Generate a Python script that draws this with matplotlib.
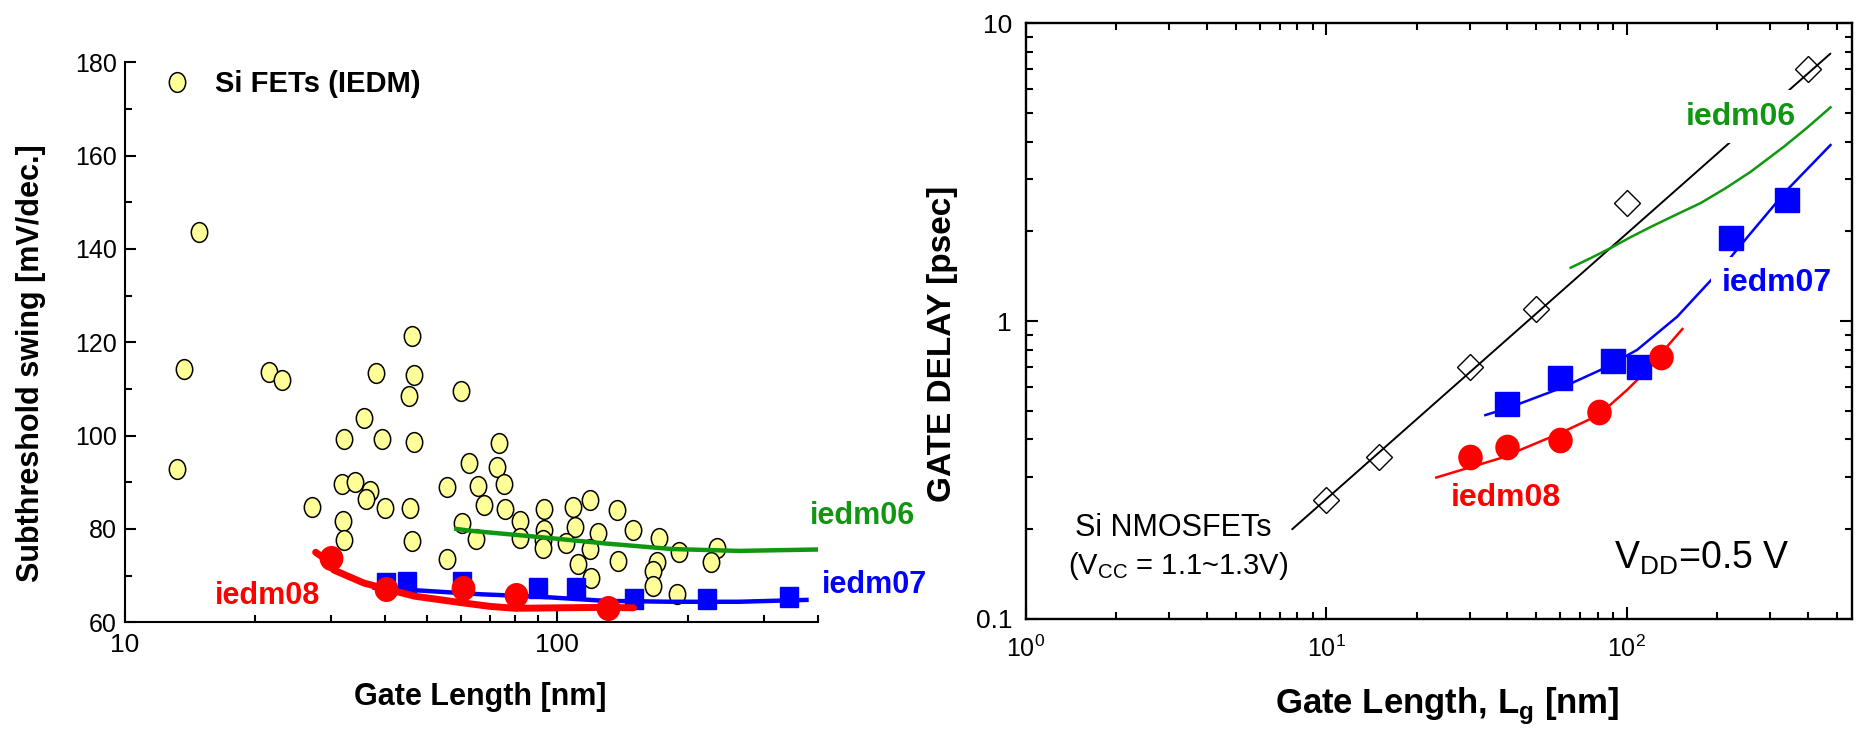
import numpy as np
import matplotlib
matplotlib.use('Agg')
import matplotlib.pyplot as plt
from matplotlib.markers import MarkerStyle
from matplotlib.transforms import Affine2D
from matplotlib.lines import Line2D
from matplotlib.ticker import LogLocator, MultipleLocator, FuncFormatter, NullFormatter

plt.rcParams['font.family'] = ['Liberation Sans', 'DejaVu Sans']
plt.rcParams['mathtext.fontset'] = 'custom'
plt.rcParams['mathtext.rm'] = 'Liberation Sans'

# ---- left panel data: subthreshold swing vs gate length ----
si_len = [14.8, 13.7, 13.2, 21.5, 23.1, 46.1, 38.0, 46.5, 45.4, 59.9,
          35.8, 32.1, 39.3, 46.5, 62.6, 27.0, 31.7, 34.0, 36.9, 36.1,
          39.9, 45.7, 55.5, 31.9, 32.1, 46.1, 60.1, 55.5, 65.5, 64.9,
          67.5, 73.2, 72.6, 75.1, 75.5, 82.1, 82.1, 92.9, 92.9, 92.6,
          92.6, 108.7, 118.8, 109.7, 104.5, 124.3, 118.8, 111.7, 119.3, 137.6,
          149.8, 137.8, 172.2, 190.6, 169.7, 166.7, 166.7, 188.8, 233.8, 226.9]
si_ss = [143.7, 114.3, 92.9, 113.7, 111.9, 121.4, 113.4, 112.9, 108.5, 109.6,
         103.8, 99.3, 99.3, 98.7, 94.1, 84.8, 89.6, 90.0, 88.2, 86.4,
         84.4, 84.4, 88.9, 81.8, 77.6, 77.4, 81.2, 73.6, 89.1, 77.8,
         85.1, 98.4, 93.3, 89.6, 84.3, 81.7, 78.0, 84.3, 79.8, 77.6,
         75.9, 84.8, 86.2, 80.5, 77.1, 79.1, 75.7, 72.4, 69.4, 84.1,
         79.8, 73.2, 78.0, 75.1, 72.9, 71.1, 67.8, 66.1, 76.0, 72.9]

ss06_len = [58.4, 63.2, 90.2, 128.8, 183.9, 262.6, 400]
ss06_val = [80.0, 79.6, 78.3, 76.9, 75.7, 75.3, 75.6]

ss07_len = [40.1, 45.0, 60.1, 90.2, 110.7, 150.6, 221.7, 342.9]
ss07_val = [68.4, 68.6, 68.6, 67.3, 67.3, 64.9, 64.9, 65.5]
ss07_fit_len = [37.8, 66.7, 90.2, 128.8, 183.9, 262.6, 376.8]
ss07_fit_val = [67.4, 66.0, 65.5, 64.6, 64.4, 64.4, 64.8]

ss08_len = [29.9, 40.1, 60.6, 80.3, 130.6]
ss08_val = [73.7, 67.1, 67.3, 65.9, 63.0]
ss08_fit_len = [27.6, 28.8, 30.4, 35.7, 46.7, 60, 70, 80, 100, 130, 150]
ss08_fit_val = [75.0, 73.8, 71.2, 68.4, 65.6, 64.2, 63.4, 63.0, 63.1, 63.2, 63.1]

# ---- right panel data: gate delay vs gate length ----
nmos_len = [10, 15, 30, 50, 100, 400]
nmos_delay = [0.25, 0.35, 0.70, 1.1, 2.5, 7.0]
nmos_fit_len = [7.7, 475]
nmos_fit_delay = [0.20, 7.9]

d06_len = [65, 75.5, 88, 102.6, 120, 145, 176, 212.7, 258, 292.7, 333, 398, 476]
d06_delay = [1.51, 1.624, 1.755, 1.91, 2.07, 2.27, 2.49, 2.79, 3.17, 3.49, 3.85, 4.46, 5.22]

d07_len = [40, 60, 90, 110, 222, 341]
d07_delay = [0.526, 0.642, 0.734, 0.702, 1.90, 2.55]
d07_fit_len = [33.8, 40, 60, 81.5, 108, 147, 200, 258, 341, 476]
d07_fit_delay = [0.483, 0.509, 0.594, 0.684, 0.799, 1.034, 1.446, 1.97, 2.754, 3.90]

d08_len = [30, 40, 60, 80.5, 130]
d08_delay = [0.350, 0.376, 0.398, 0.496, 0.755]
d08_fit_len = [23.2, 37.9, 60, 80.5, 100, 120, 136, 153]
d08_fit_delay = [0.298, 0.346, 0.42, 0.483, 0.586, 0.702, 0.82, 0.94]

GREEN = '#119611'
BLUE = '#0000ff'
RED = '#ff0000'

ellipse = MarkerStyle('o', transform=Affine2D().scale(0.83, 1.0))
redcirc = MarkerStyle('o', transform=Affine2D().scale(0.95, 1.0))
bluesq = MarkerStyle('s', transform=Affine2D().scale(0.9, 1.0))

fig = plt.figure(figsize=(18.6, 7.29), dpi=100)
W, H = 1860, 729

# ================= left panel =================
ax1 = fig.add_axes([125 / W, 1 - 622.3 / H, 692.7 / W, 560 / H])
ax1.plot(si_len, si_ss, ls='none', marker=ellipse, ms=14.2, mfc='#ffff99',
         mec='black', mew=1.1, zorder=2)
ax1.plot(ss06_len, ss06_val, color=GREEN, lw=3.2, zorder=3)
ax1.plot(ss07_fit_len, ss07_fit_val, color=BLUE, lw=3.2, zorder=4)
ax1.plot(ss07_len, ss07_val, ls='none', marker=bluesq, ms=14.4, color=BLUE, zorder=5)
ax1.plot(ss08_fit_len, ss08_fit_val, color=RED, lw=5, zorder=6,
         solid_capstyle='round')
ax1.plot(ss08_len, ss08_val, ls='none', marker=redcirc, ms=17, color=RED, zorder=7)

ax1.set_xscale('log')
ax1.set_xlim(10, 400)
ax1.set_ylim(60, 180)
ax1.xaxis.set_major_locator(LogLocator(base=10))
ax1.xaxis.set_minor_locator(LogLocator(base=10, subs=np.arange(2, 10)))
ax1.xaxis.set_major_formatter(FuncFormatter(lambda v, p: f'{v:g}'))
ax1.xaxis.set_minor_formatter(NullFormatter())
ax1.yaxis.set_major_locator(MultipleLocator(20))
ax1.yaxis.set_minor_locator(MultipleLocator(10))
ax1.spines['top'].set_visible(False)
ax1.spines['right'].set_visible(False)
for s in ('left', 'bottom'):
    ax1.spines[s].set_linewidth(1.5)
ax1.tick_params(which='both', direction='in', width=1.5)
ax1.tick_params(which='major', length=8)
ax1.tick_params(which='minor', length=5)
ax1.tick_params(axis='x', labelsize=19, pad=8)
ax1.tick_params(axis='y', labelsize=18, pad=6)

ax1.set_xlabel('Gate Length [nm]', fontsize=22, fontweight='bold')
ax1.xaxis.set_label_coords(0.5125, -0.1334)
ax1.xaxis.label.set_va('center')
ax1.set_ylabel('Subthreshold swing [mV/dec.]', fontsize=22, fontweight='bold')
ax1.yaxis.set_label_coords(-0.1357, 0.463)
ax1.yaxis.label.set_va('center')

ax1.text(21.4, 65.6, 'iedm08', color=RED, fontsize=22, fontweight='bold',
         ha='center', va='center')
ax1.text(384, 82.8, 'iedm06', color=GREEN, fontsize=22, fontweight='bold',
         ha='left', va='center')
ax1.text(410, 68.0, 'iedm07', color=BLUE, fontsize=22, fontweight='bold',
         ha='left', va='center')

proxy = Line2D([], [], ls='none', marker=ellipse, ms=14.2, mfc='#ffff99',
               mec='black', mew=1.1)
ax1.legend([proxy], ['Si FETs (IEDM)'], loc='center left',
           bbox_to_anchor=(0.033, 0.961), frameon=False, borderpad=0,
           handlelength=1.0, handletextpad=0.8,
           prop={'size': 21, 'weight': 'bold'})

# ================= right panel =================
ax2 = fig.add_axes([1026 / W, 1 - 618.7 / H, 825.7 / W, 595.4 / H])
ax2.plot(nmos_fit_len, nmos_fit_delay, color='black', lw=1.4, zorder=3)
ax2.plot(nmos_len, nmos_delay, ls='none', marker='D', ms=13, mfc='none',
         mec='black', mew=1.0, zorder=7)
ax2.plot(d06_len, d06_delay, color=GREEN, lw=1.8, zorder=6)
ax2.plot(d07_fit_len, d07_fit_delay, color=BLUE, lw=1.8, zorder=3)
ax2.plot(d07_len, d07_delay, ls='none', marker='s', ms=17.8, color=BLUE, zorder=7)
ax2.plot(d08_fit_len, d08_fit_delay, color=RED, lw=1.8, zorder=3)
ax2.plot(d08_len, d08_delay, ls='none', marker=redcirc, ms=17.5, color=RED, zorder=8)

ax2.set_xscale('log')
ax2.set_yscale('log')
ax2.set_xlim(1, 560)
ax2.set_ylim(0.1, 10)
ax2.xaxis.set_minor_locator(LogLocator(base=10, subs=np.arange(2, 10)))
ax2.yaxis.set_minor_locator(LogLocator(base=10, subs=np.arange(2, 10)))
ax2.xaxis.set_minor_formatter(NullFormatter())
ax2.yaxis.set_minor_formatter(NullFormatter())
ax2.yaxis.set_major_formatter(FuncFormatter(lambda v, p: f'{v:g}'))
for s in ax2.spines.values():
    s.set_linewidth(1.7)
ax2.tick_params(which='both', direction='in', width=1.5, top=True, right=True)
ax2.tick_params(which='major', length=8.5)
ax2.tick_params(which='minor', length=5)
ax2.tick_params(axis='x', labelsize=18, pad=12)
ax2.tick_params(axis='y', labelsize=19, pad=10)

ax2.set_xlabel('Gate Length, L$_{\\mathregular{g}}$ [nm]', fontsize=25,
               fontweight='bold')
ax2.xaxis.set_label_coords(0.51, -0.1466)
ax2.xaxis.label.set_va('center')
ax2.set_ylabel('GATE DELAY [psec]', fontsize=24, fontweight='bold')
ax2.yaxis.set_label_coords(-0.1011, 0.4614)
ax2.yaxis.label.set_va('center')

box = dict(facecolor='white', edgecolor='none', pad=8)
ax2.text(240, 4.86, 'iedm06', color=GREEN, fontsize=23, fontweight='bold',
         ha='center', va='center', bbox=box, zorder=5)
ax2.text(316, 1.339, 'iedm07', color=BLUE, fontsize=23, fontweight='bold',
         ha='center', va='center', bbox=box, zorder=5)
ax2.text(39.5, 0.2538, 'iedm08', color=RED, fontsize=23, fontweight='bold',
         ha='center', va='center', zorder=5)
ax2.text(3.1, 0.1889, 'Si NMOSFETs', fontsize=22, ha='center', va='baseline')
ax2.text(3.2, 0.1408, '(V$_{\\mathregular{CC}}$ = 1.1~1.3V)', fontsize=21,
         ha='center', va='baseline')
ax2.text(177, 0.1469, 'V$_{\\mathregular{DD}}$=0.5 V', fontsize=27,
         ha='center', va='baseline')

fig.savefig('out.png', dpi=100)
